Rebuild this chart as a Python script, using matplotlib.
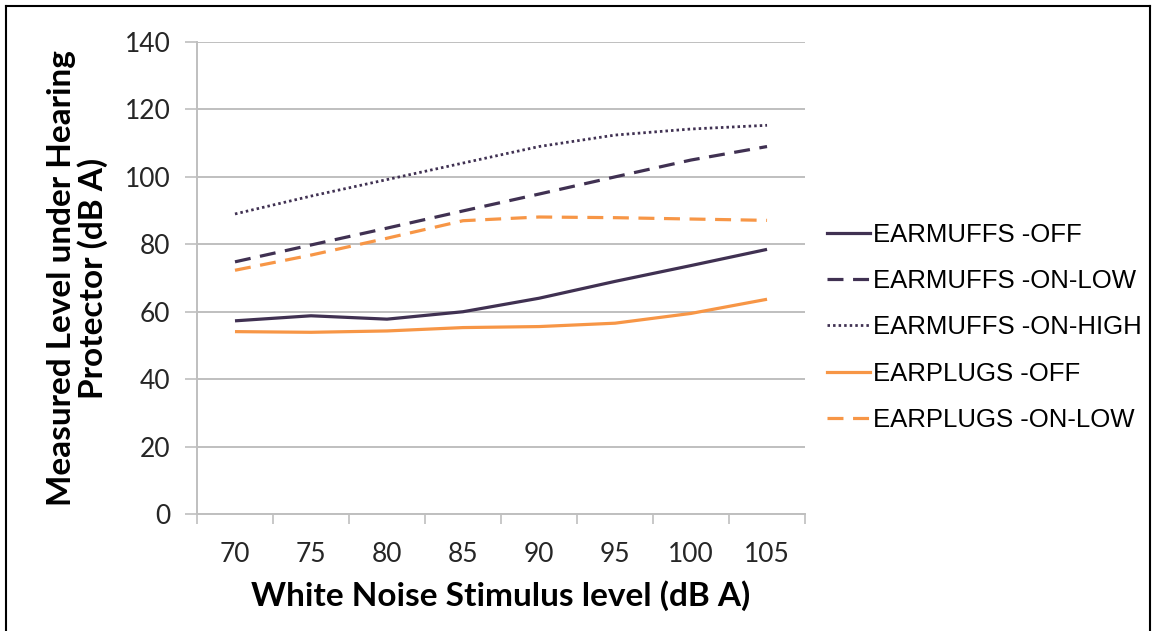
import numpy as np
import matplotlib
matplotlib.use("Agg")
import matplotlib.pyplot as plt
from matplotlib.lines import Line2D

# ===== datos =====
stimulus = ["70", "75", "80", "85", "90", "95", "100", "105"]
earmuffs_off = [57.3, 58.8, 57.8, 60.0, 64.0, 69.0, 73.7, 78.5]
earmuffs_on_low = [74.8, 79.8, 84.8, 89.9, 94.9, 100.0, 105.0, 109.0]
earmuffs_on_high = [89.0, 94.3, 99.2, 104.1, 109.0, 112.4, 114.2, 115.3]
earplugs_off = [54.1, 53.9, 54.3, 55.3, 55.6, 56.6, 59.5, 63.7]
earplugs_on_low = [72.3, 76.8, 81.8, 87.0, 88.1, 87.9, 87.5, 87.1]

PURPLE = "#403152"
ORANGE = "#F79646"
GRID = "#BFBFBF"

series = [
    ("EARMUFFS -OFF", earmuffs_off, PURPLE, "-"),
    ("EARMUFFS -ON-LOW", earmuffs_on_low, PURPLE, (0, (5, 3))),
    ("EARMUFFS -ON-HIGH", earmuffs_on_high, PURPLE, (0, (0.9, 1.1))),
    ("EARPLUGS -OFF", earplugs_off, ORANGE, "-"),
    ("EARPLUGS -ON-LOW", earplugs_on_low, ORANGE, (0, (5, 3))),
]

# ===== figura =====
fig = plt.figure(figsize=(11.56, 6.31), dpi=100)
ax = fig.add_axes([0.1704, 0.1854, 0.5260, 0.7480])

x = np.arange(len(stimulus)) + 0.5
handles = []
for label, vals, col, ls in series:
    lw = 2.0 if ls == (0, (0.9, 1.1)) else 2.3
    ax.plot(x, vals, color=col, linestyle=ls, linewidth=lw,
            solid_capstyle="butt", dash_capstyle="butt")
    handles.append(Line2D([], [], color=col, linestyle=ls, linewidth=lw))

ax.set_xlim(0, len(stimulus))
ax.set_ylim(0, 140)
ax.set_yticks(np.arange(0, 141, 20))
ax.yaxis.grid(True, color=GRID, linewidth=1.4)
ax.set_axisbelow(True)

# ticks x: marcas en bordes de categoría, etiquetas en el centro
ax.set_xticks(np.arange(0, len(stimulus) + 1))
ax.set_xticklabels([])
ax.set_xticks(x, minor=True)
ax.set_xticklabels(stimulus, minor=True)
ax.tick_params(axis="x", which="major", length=7, width=1.2, color=GRID)
ax.tick_params(axis="x", which="minor", length=0, pad=20, labelsize=19,
               labelcolor="#262626")
ax.tick_params(axis="y", length=9, width=1.2, color=GRID, labelsize=19,
               labelcolor="#262626", pad=10)
for lab in ax.get_xticklabels(minor=True) + ax.get_yticklabels():
    lab.set_family("Lato")

for s in ["top", "right"]:
    ax.spines[s].set_visible(False)
for s in ["left", "bottom"]:
    ax.spines[s].set_color(GRID)
    ax.spines[s].set_linewidth(1.4)

ax.set_xlabel("White Noise Stimulus level (dB A)", fontsize=24, fontweight="bold",
              family="Lato", labelpad=10)
ax.set_ylabel("Measured Level under Hearing\nProtector (dB A)", fontsize=24,
              fontweight="bold", family="Lato", labelpad=12, linespacing=1.05)

fig.legend(handles, [s[0] for s in series], loc="center left",
           bbox_to_anchor=(0.6955, 0.481), frameon=False,
           prop={"family": "Liberation Sans", "size": 18.5},
           handlelength=1.65, handletextpad=0.15, labelspacing=0.86)

# marco exterior
fig.add_artist(Line2D([6 / 1156, 6 / 1156], [0, 1 - 6 / 631], color="black",
                      linewidth=1.5, transform=fig.transFigure))
fig.add_artist(Line2D([6 / 1156, 1150 / 1156], [1 - 6 / 631, 1 - 6 / 631],
                      color="black", linewidth=1.5, transform=fig.transFigure))
fig.add_artist(Line2D([1150 / 1156, 1150 / 1156], [0, 1 - 6 / 631], color="black",
                      linewidth=1.5, transform=fig.transFigure))

fig.savefig("out.png", dpi=100)
